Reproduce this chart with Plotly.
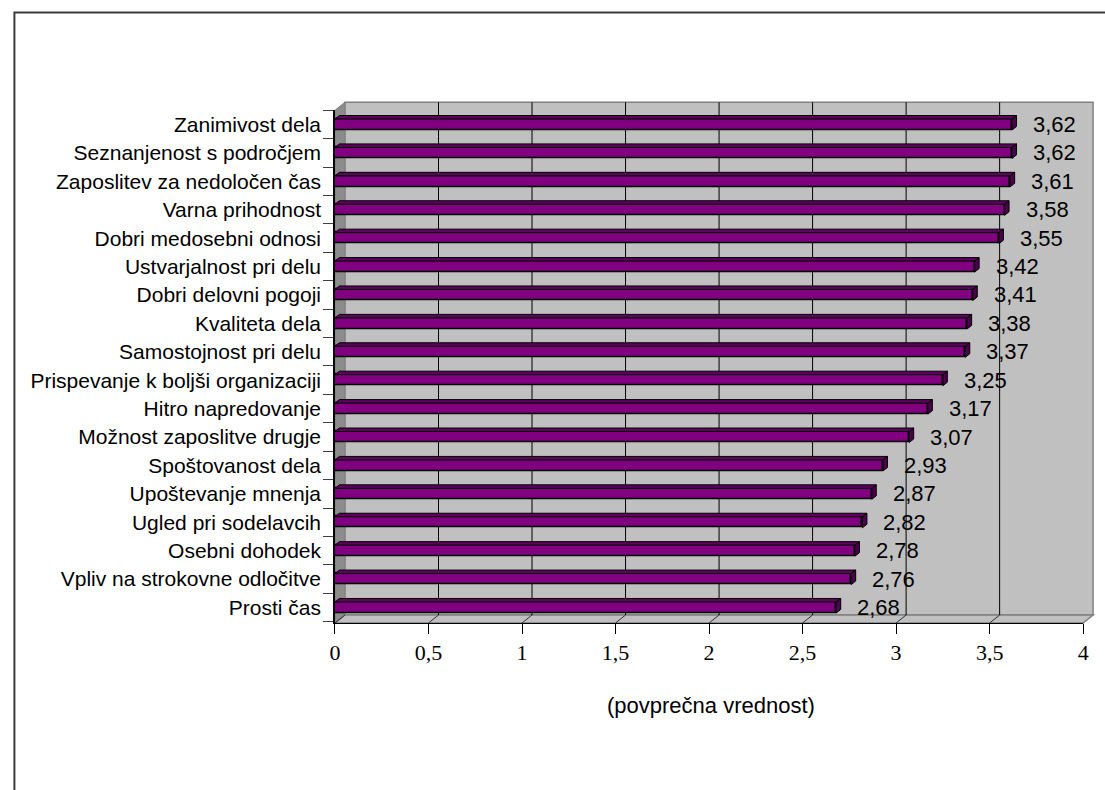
import plotly.graph_objects as go

# ---- data -------------------------------------------------------------
categories = [
    "Zanimivost dela",
    "Seznanjenost s področjem",
    "Zaposlitev za nedoločen čas",
    "Varna prihodnost",
    "Dobri medosebni odnosi",
    "Ustvarjalnost pri delu",
    "Dobri delovni pogoji",
    "Kvaliteta dela",
    "Samostojnost pri delu",
    "Prispevanje k boljši organizaciji",
    "Hitro napredovanje",
    "Možnost zaposlitve drugje",
    "Spoštovanost dela",
    "Upoštevanje mnenja",
    "Ugled pri sodelavcih",
    "Osebni dohodek",
    "Vpliv na strokovne odločitve",
    "Prosti čas",
]
values = [3.62, 3.62, 3.61, 3.58, 3.55, 3.42, 3.41, 3.38, 3.37,
          3.25, 3.17, 3.07, 2.93, 2.87, 2.82, 2.78, 2.76, 2.68]
x_ticks = [0, 0.5, 1, 1.5, 2, 2.5, 3, 3.5, 4]
axis_title = "(povprečna vrednost)"

# ---- page geometry (pixels) -------------------------------------------
W, H = 1105, 790
FRONT_L, FRONT_R = 333, 1088          # front plane: value 0 .. 4
FRONT_BOT = 623                       # front edge of the floor
FIRST_ROW = 124.5                     # centre of the first category row
ROW = 28.41                           # row pitch
DEPTH_X, DEPTH_Y = 10, 8              # offset of the back wall
BAR_H = 11                            # bar front face height
BAR_DX, BAR_DY = 4.5, 3.5             # bar depth

X_UNIT = (FRONT_R - FRONT_L) / (x_ticks[-1] - x_ticks[0])
n = len(categories)
rows = list(range(n))


def px(x):
    return x / W


def py(y):
    return 1 - y / H


front_top = FIRST_ROW - 0.5 * ROW
y_lo = -0.5
y_hi = (FRONT_BOT - FIRST_ROW) / ROW

back_l, back_r = FRONT_L + DEPTH_X, FRONT_R + DEPTH_X
back_top, back_bot = front_top - DEPTH_Y, FRONT_BOT - DEPTH_Y

SANS = "Arial, Liberation Sans, sans-serif"
SERIF = "Times New Roman, Liberation Serif, serif"

fig = go.Figure()

# front faces of the bars
bar_w = BAR_H / ROW
fig.add_trace(go.Bar(
    x=values, y=rows, orientation="h", width=bar_w,
    marker=dict(color="#800080", line=dict(color="#000000", width=1.5)),
    hoverinfo="skip", showlegend=False,
))

# top and side faces of the bars (3D depth)
dx = BAR_DX / X_UNIT
dy = BAR_DY / ROW
top_x, top_y, side_x, side_y = [], [], [], []
for v, r in zip(values, rows):
    t = r - bar_w / 2
    b = r + bar_w / 2
    top_x += [0, v, v + dx, dx, 0, None]
    top_y += [t, t, t - dy, t - dy, t, None]
    side_x += [v, v + dx, v + dx, v, v, None]
    side_y += [t, t - dy, b - dy, b, t, None]

fig.add_trace(go.Scatter(
    x=top_x, y=top_y, mode="lines", fill="toself", fillcolor="#5e005e",
    line=dict(color="#000000", width=1), hoverinfo="skip", showlegend=False,
))
fig.add_trace(go.Scatter(
    x=side_x, y=side_y, mode="lines", fill="toself", fillcolor="#4a004a",
    line=dict(color="#000000", width=1), hoverinfo="skip", showlegend=False,
))

# ---- walls, floor, gridlines -------------------------------------------
shapes = []


def poly(points):
    d = "M " + " L ".join(f"{px(x):.5f},{py(y):.5f}" for x, y in points) + " Z"
    return d


# outer chart frame
shapes.append(dict(
    type="path", xref="paper", yref="paper", layer="below",
    path=f"M {px(9.5):.5f},{py(820):.5f} L {px(9.5):.5f},{py(12.5):.5f} "
         f"L {px(1120):.5f},{py(12.5):.5f}",
    line=dict(color="#3c3c3c", width=2),
))
# back wall
shapes.append(dict(
    type="path", xref="paper", yref="paper", layer="below",
    path=poly([(back_l, back_top), (back_r, back_top),
               (back_r, back_bot), (back_l, back_bot)]),
    fillcolor="#c0c0c0", line=dict(color="#808080", width=1.5),
))
# left side wall
shapes.append(dict(
    type="path", xref="paper", yref="paper", layer="below",
    path=poly([(FRONT_L, front_top), (back_l, back_top),
               (back_l, back_bot), (FRONT_L, FRONT_BOT)]),
    fillcolor="#8c8c8c", line=dict(color="#808080", width=1),
))
# floor
shapes.append(dict(
    type="path", xref="paper", yref="paper", layer="below",
    path=poly([(FRONT_L, FRONT_BOT), (back_l, back_bot),
               (back_r, back_bot), (FRONT_R, FRONT_BOT)]),
    fillcolor="#c0c0c0", line=dict(color="#808080", width=1.5),
))
# gridlines on the back wall
for t in x_ticks[1:-1]:
    shapes.append(dict(
        type="line", layer="below", xref="x", xsizemode="pixel", xanchor=t,
        x0=DEPTH_X, x1=DEPTH_X, yref="paper", y0=py(back_bot), y1=py(back_top),
        line=dict(color="#000000", width=1),
    ))
# slanted tick lines across the floor
for t in x_ticks:
    shapes.append(dict(
        type="line", layer="below", xref="x", xsizemode="pixel", xanchor=t,
        x0=0, x1=DEPTH_X, yref="paper", y0=py(FRONT_BOT), y1=py(back_bot),
        line=dict(color="#303030", width=1),
    ))

# ---- value labels -------------------------------------------------------
annotations = []
for v, r in zip(values, rows):
    annotations.append(dict(
        x=v, y=r, xref="x", yref="y", text=f"{v:.2f}".replace(".", ","),
        showarrow=False, xanchor="left", yanchor="middle", xshift=19,
        font=dict(family=SANS, size=22, color="#000000"),
    ))
annotations.append(dict(
    x=px(712), y=py(705), xref="paper", yref="paper", text=axis_title,
    showarrow=False, xanchor="center", yanchor="middle",
    font=dict(family=SANS, size=22, color="#000000"),
))

fig.update_layout(
    width=W, height=H,
    margin=dict(l=0, r=0, t=0, b=0),
    paper_bgcolor="#ffffff",
    plot_bgcolor="rgba(0,0,0,0)",
    separators=", ",
    bargap=0,
    shapes=shapes,
    annotations=annotations,
    xaxis=dict(
        domain=[px(FRONT_L), px(FRONT_R)],
        range=[x_ticks[0], x_ticks[-1]],
        tickvals=x_ticks,
        ticks="outside", ticklen=10, tickcolor="#000000", tickwidth=1,
        showline=True, linecolor="#000000", linewidth=1,
        showgrid=False, zeroline=False,
        tickfont=dict(family=SERIF, size=22, color="#000000"),
        fixedrange=True,
    ),
    yaxis=dict(
        domain=[py(FRONT_BOT), py(front_top)],
        range=[y_hi, y_lo],
        tickvals=rows, ticktext=categories,
        ticks="", ticklabelstandoff=8,
        minor=dict(tickvals=[r - 0.5 for r in rows] + [n - 0.5],
                   ticks="outside", ticklen=10, tickcolor="#404040",
                   showgrid=False),
        showline=True, linecolor="#000000", linewidth=1.5,
        showgrid=False, zeroline=False,
        tickfont=dict(family=SANS, size=21, color="#000000"),
        fixedrange=True,
    ),
)

fig.write_html("out.html")
